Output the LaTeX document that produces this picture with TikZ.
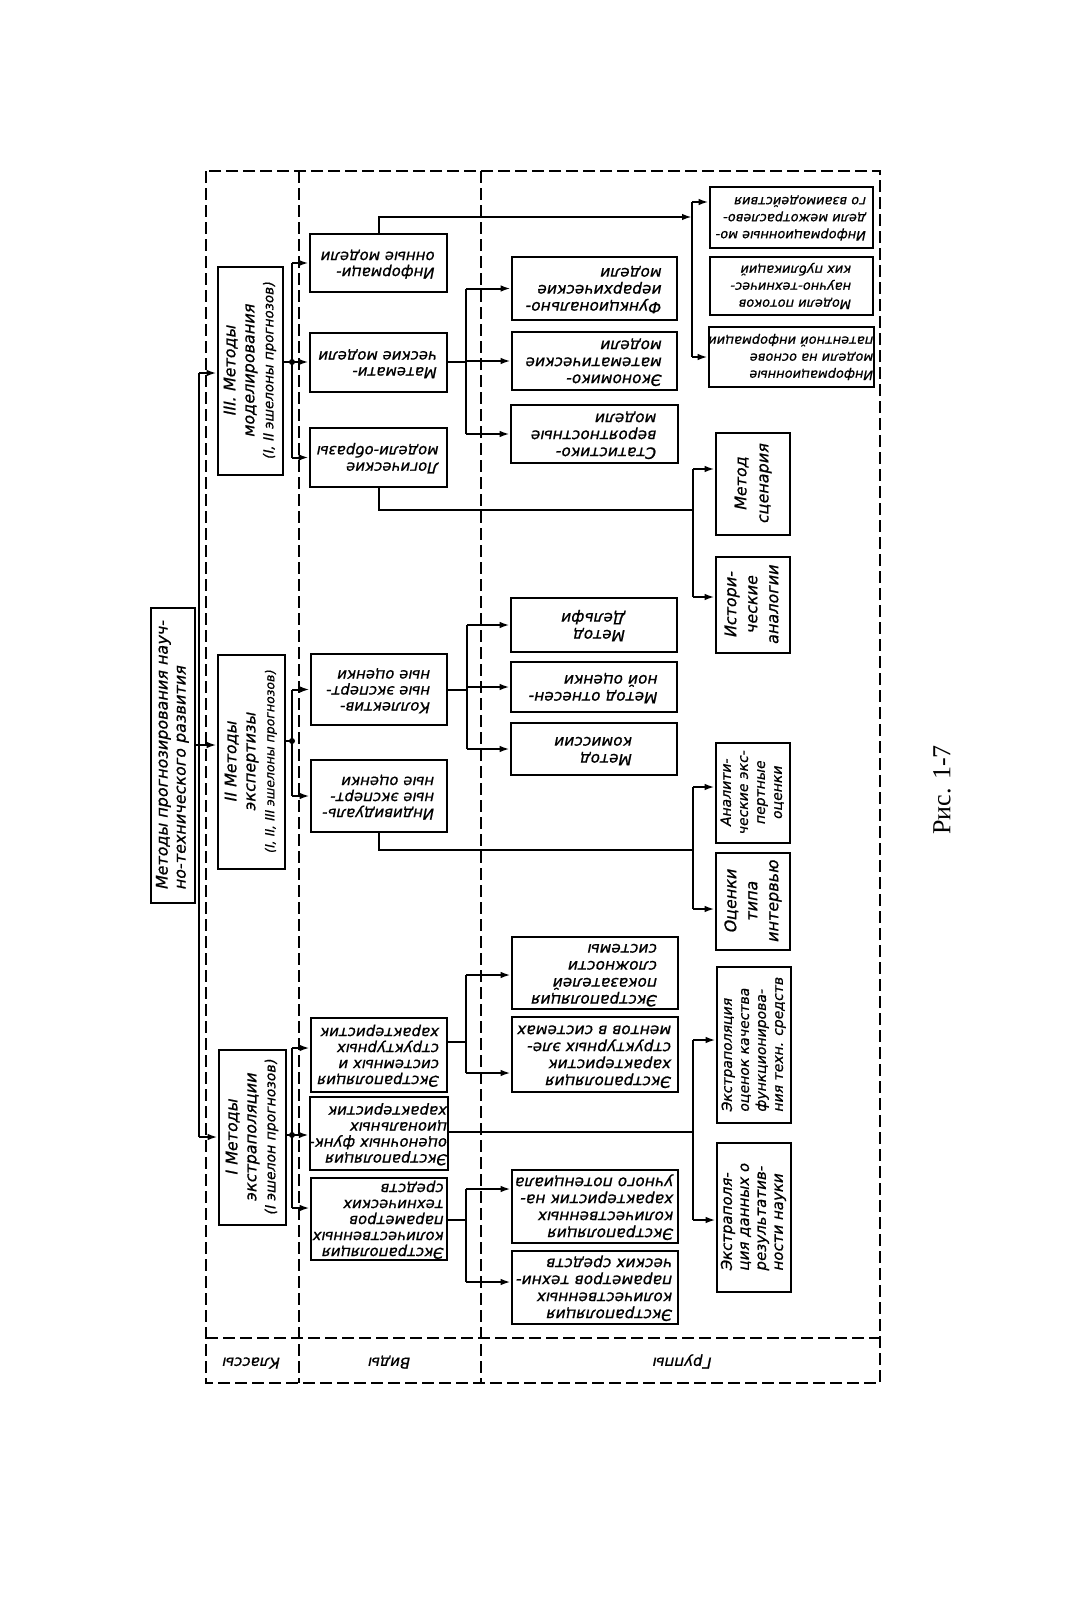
\documentclass[tikz,border=0pt]{standalone}
\usepackage{fontspec}
\usepackage{graphicx}
\setmainfont{DejaVu Sans}[FakeSlant=0.2, FakeBold=0.8]
\newfontfamily\capfont{Liberation Serif}
\usetikzlibrary{arrows.meta}
\newcommand\flipT[2][l]{\rotatebox{180}{\begin{tabular}{@{}#1@{}}#2\end{tabular}}}
\newcommand\upT[2][c]{\rotatebox{90}{\begin{tabular}{@{}#1@{}}#2\end{tabular}}}
\tikzset{
  bx/.style={draw, line width=2.6pt, inner sep=0pt, rectangle},
  fV/.style={font=\fontsize{15}{16}\selectfont},
  fG/.style={font=\fontsize{15.5}{17}\selectfont},
  fT/.style={font=\fontsize{13}{17}\selectfont},
  fC/.style={font=\fontsize{16}{19}\selectfont},
  ln/.style={line width=2pt},
  ar/.style={line width=2pt, -{Latex[length=10pt,width=6.5pt]}},
  fr/.style={line width=2.3pt, dash pattern=on 12pt off 5pt},
  lbl/.style={inner sep=0pt, font=\fontsize{15}{17}\selectfont}
}
\begin{document}
\begin{tikzpicture}[x=1pt,y=-1pt]
\useasboundingbox (0,0) rectangle (1072,1600);
\fill[white] (0,0) rectangle (1072,1600);

% frame
\draw[fr] (206,171) rectangle (880,1383);
\draw[fr] (299,171) -- (299,1383);
\draw[fr] (481,171) -- (481,1383);
\draw[fr] (206,1338) -- (880,1338);
\node[lbl] (lK) at (252,1361) {\flipT{Классы}};
\node[lbl] (lV) at (390,1361) {\flipT{Виды}};
\node[lbl] (lG) at (683,1361) {\flipT{Группы}};

% root
\node[bx, minimum width=44, minimum height=295, font=\fontsize{16}{18}\selectfont] (root) at (173,755.5)
  {\upT[l]{Методы прогнозирования науч-\\но-технического развития}};

% classes
\node[bx, fC, minimum width=65, minimum height=208] (c3) at (250.5,371)
  {\upT{III. Методы\\моделирования\\{\fontsize{13.5}{19}\selectfont (I, II эшелоны прогнозов)}}};
\node[bx, fC, minimum width=67, minimum height=214] (c2) at (251.5,762)
  {\upT{II Методы\\экспертизы\\{\fontsize{12.5}{19}\selectfont (I, II, III эшелоны прогнозов)}}};
\node[bx, fC, minimum width=67, minimum height=175] (c1) at (252.5,1137.5)
  {\upT{I Методы\\экстраполяции\\{\fontsize{14}{19}\selectfont (I эшелон прогнозов)}}};

% kinds
\node[bx, fV, minimum width=137, minimum height=58] (vInfo) at (378.5,263) {\flipT{Информаци-\\онные модели}};
\node[bx, fV, minimum width=137, minimum height=59] (vMath) at (378.5,362.5) {\flipT{Математи-\\ческие модели}};
\node[bx, fV, minimum width=137, minimum height=59] (vLog) at (378.5,457.5) {\flipT{Логические\\модели-образы}};
\node[bx, fV, minimum width=136, minimum height=71] (vColl) at (379,689.5) {\flipT{Коллектив-\\ные эксперт-\\ные оценки}};
\node[bx, fV, minimum width=136, minimum height=72] (vInd) at (379,796) {\flipT{Индивидуаль-\\ные эксперт-\\ные оценки}};
\node[bx, fV, minimum width=136, minimum height=74] (vSys) at (379,1055) {\flipT{Экстраполяция\\системных и\\структурных\\характеристик}};
\node[bx, fV, minimum width=136, minimum height=73] (vFun) at (379,1133.5) {\flipT{Экстраполяция\\оценочных функ-\\циональных\\характеристик}};
\node[bx, fV, minimum width=136, minimum height=82] (vQua) at (379,1219) {\flipT{Экстраполяция\\количественных\\параметров\\технических\\средств}};

% groups, middle column
\node[bx, fG, minimum width=165, minimum height=63] (gFH) at (594.5,288.5) {\flipT{Функционально-\\иерархические\\модели}};
\node[bx, fG, minimum width=165, minimum height=58] (gEM) at (594.5,361) {\flipT{Экономико-\\математические\\модели}};
\node[bx, fG, minimum width=167, minimum height=58] (gSV) at (594.5,434) {\flipT{Статистико-\\вероятностные\\модели}};
\node[bx, fG, minimum width=166, minimum height=54] (gDel) at (594,625) {\flipT{Метод\\Дельфи}};
\node[bx, fG, minimum width=166, minimum height=50] (gOtn) at (594,687) {\flipT{Метод отнесен-\\ной оценки}};
\node[bx, fG, minimum width=166, minimum height=52] (gKom) at (594,749) {\flipT{Метод\\комиссии}};
\node[bx, fG, minimum width=166, minimum height=72] (gSl) at (595,973) {\flipT{Экстраполяция\\показателей\\сложности\\системы}};
\node[bx, fG, minimum width=166, minimum height=75] (gSE) at (595,1054.5) {\flipT{Экстраполяция\\характеристик\\структурных эле-\\ментов в системах}};
\node[bx, fG, minimum width=166, minimum height=73] (gNP) at (595,1206.5) {\flipT{Экстраполяция\\количественных\\характеристик на-\\учного потенциала}};
\node[bx, fG, minimum width=166, minimum height=73] (gTS) at (595,1287.5) {\flipT{Экстраполяция\\количественных\\параметров техни-\\ческих средств}};

% groups, top right
\node[bx, fT, minimum width=163, minimum height=61] (gIM) at (791.5,217.5) {\flipT{Информационные мо-\\дели межотраслево-\\го взаимодействия}};
\node[bx, fT, minimum width=163, minimum height=58] (gPub) at (791.5,286) {\flipT{Модели потоков\\научно-техничес-\\ких публикаций}};
\node[bx, fT, minimum width=163, minimum height=60] (gIP) at (791.5,357) {\flipT{Информационные\\модели на основе\\патентной информации}};

% groups, right vertical
\node[bx, font=\fontsize{16}{22}\selectfont, minimum width=74, minimum height=102] (gSc) at (753,484) {\upT{Метод\\сценария}};
\node[bx, font=\fontsize{16}{21}\selectfont, minimum width=74, minimum height=96] (gHA) at (753,605) {\upT{Истори-\\ческие\\аналогии}};
\node[bx, font=\fontsize{14}{17}\selectfont, minimum width=74, minimum height=100] (gAn) at (753,793) {\upT{Аналити-\\ческие экс-\\пертные\\оценки}};
\node[bx, font=\fontsize{16}{21}\selectfont, minimum width=74, minimum height=97] (gInt) at (753,901.5) {\upT{Оценки\\типа\\интервью}};
\node[bx, font=\fontsize{14}{17}\selectfont, minimum width=74, minimum height=156] (gQF) at (754,1045) {\upT[l]{Экстраполяция\\оценок качества\\функционирова-\\ния техн. средств}};
\node[bx, font=\fontsize{15}{17}\selectfont, minimum width=74, minimum height=149] (gRN) at (754,1217.5) {\upT[l]{Экстраполя-\\ция данных о\\результатив-\\ности науки}};

% caption
\node[font=\capfont\fontsize{26}{28}\selectfont, rotate=90] (cap) at (942,790) {Рис. 1-7};

% bus from root to classes
\coordinate (busT) at (199,373);
\coordinate (busB) at (199,1137);
\coordinate (j2) at (199,745);
\draw[ln] (busT) -- (busB);
\draw[ar] (busT) -- (c3.west |- busT);
\draw[ar] (busB) -- (c1.west |- busB);
\draw[ar] (root.east |- j2) -- (c2.west |- j2);

% class III -> kinds
\coordinate (k3) at (292,362);
\draw[ln] (c3.east |- k3) -- (k3);
\fill (k3) circle (3);
\draw[ln] (k3 |- vInfo) -- (k3 |- vLog);
\draw[ar] (k3 |- vInfo) -- (vInfo.west);
\draw[ar] (k3) -- (vMath.west |- k3);
\draw[ar] (k3 |- vLog) -- (vLog.west);

% class II -> kinds
\coordinate (k2) at (292,741);
\draw[ln] (c2.east |- k2) -- (k2);
\fill (k2) circle (3);
\draw[ln] (k2 |- vColl) -- (k2 |- vInd);
\draw[ar] (k2 |- vColl) -- (vColl.west);
\draw[ar] (k2 |- vInd) -- (vInd.west);

% class I -> kinds
\coordinate (k1) at (292,1135);
\coordinate (k1a) at (292,1048);
\coordinate (k1b) at (292,1208);
\draw[ln] (c1.east |- k1) -- (k1);
\fill (k1) circle (3);
\draw[ln] (k1a) -- (k1b);
\draw[ar] (k1a) -- (vSys.west |- k1a);
\draw[ar] (k1) -- (vFun.west |- k1);
\draw[ar] (k1b) -- (vQua.west |- k1b);

% informational models -> top-right groups
\coordinate (bI) at (692,217);
\coordinate (bIt) at (692,202);
\coordinate (bIb) at (692,357);
\draw[ar] (vInfo.north) |- (bI);
\draw[ln] (bIt) -- (bIb);
\draw[ar] (bIt) -- (gIM.west |- bIt);
\draw[ar] (bIb) -- (gIP.west |- bIb);

% mathematical models -> groups
\coordinate (bM) at (466,362);
\draw[ln] (vMath.east |- bM) -- (bM);
\draw[ln] (bM |- gFH) -- (bM |- gSV);
\draw[ar] (bM |- gFH) -- (gFH.west);
\draw[ar] (bM |- gEM) -- (gEM.west);
\draw[ar] (bM |- gSV) -- (gSV.west);

% logical models -> scenario / analogies
\coordinate (bL) at (693,510);
\coordinate (bLt) at (693,469);
\coordinate (bLb) at (693,597);
\draw[ln] (vLog.south) |- (bL);
\draw[ln] (bLt) -- (bLb);
\draw[ar] (bLt) -- (gSc.west |- bLt);
\draw[ar] (bLb) -- (gHA.west |- bLb);

% collective -> groups
\coordinate (bC) at (467,689.5);
\draw[ln] (vColl.east) -- (bC);
\draw[ln] (bC |- gDel) -- (bC |- gKom);
\draw[ar] (bC |- gDel) -- (gDel.west);
\draw[ar] (bC |- gOtn) -- (gOtn.west);
\draw[ar] (bC |- gKom) -- (gKom.west);

% individual -> analytic / interview
\coordinate (bN) at (693,850);
\coordinate (bNt) at (693,787);
\coordinate (bNb) at (693,909);
\draw[ln] (vInd.south) |- (bN);
\draw[ln] (bNt) -- (bNb);
\draw[ar] (bNt) -- (gAn.west |- bNt);
\draw[ar] (bNb) -- (gInt.west |- bNb);

% system characteristics -> groups
\coordinate (bS) at (466,1042);
\coordinate (bSt) at (466,975);
\coordinate (bSb) at (466,1073);
\draw[ln] (vSys.east |- bS) -- (bS);
\draw[ln] (bSt) -- (bSb);
\draw[ar] (bSt) -- (gSl.west |- bSt);
\draw[ar] (bSb) -- (gSE.west |- bSb);

% functional -> right vertical boxes
\coordinate (bF) at (693,1132);
\coordinate (bFt) at (693,1040);
\coordinate (bFb) at (693,1220);
\draw[ln] (vFun.east |- bF) -- (bF);
\draw[ln] (bFt) -- (bFb);
\draw[ar] (bFt) -- (gQF.west |- bFt);
\draw[ar] (bFb) -- (gRN.west |- bFb);

% quantitative -> groups
\coordinate (bQ) at (466,1220);
\coordinate (bQt) at (466,1189);
\coordinate (bQb) at (466,1282);
\draw[ln] (vQua.east |- bQ) -- (bQ);
\draw[ln] (bQt) -- (bQb);
\draw[ar] (bQt) -- (gNP.west |- bQt);
\draw[ar] (bQb) -- (gTS.west |- bQb);
\end{tikzpicture}
\end{document}
